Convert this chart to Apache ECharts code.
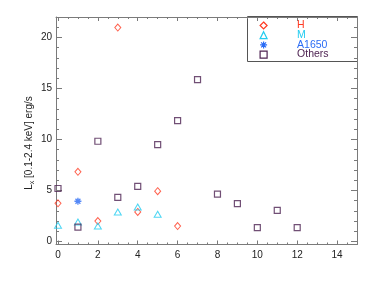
<!DOCTYPE html>
<html><head><meta charset="utf-8">
<script src="https://cdn.jsdelivr.net/npm/echarts@6/dist/echarts.min.js"></script>
<style>html,body{margin:0;padding:0;background:#fff}#c{width:374px;height:281px}</style>
</head><body><div id="c"></div>
<script>
// ---- data ----
const hX = [0, 1, 2, 3, 4, 5, 6];
const hY = [3.74, 6.83, 2.0, 20.96, 2.89, 4.93, 1.51];
const mX = [0, 1, 2, 3, 4, 5];
const mY = [1.58, 1.9, 1.51, 2.89, 3.38, 2.66];
const aX = [1];
const aY = [3.94];
const oX = [0, 1, 2, 3, 4, 5, 6, 7, 8, 9, 10, 11, 12];
const oY = [5.19, 1.41, 9.82, 4.31, 5.39, 9.49, 11.85, 15.86, 4.63, 3.71, 1.35, 3.05, 1.35];
const seriesNames = ['H', 'M', 'A1650', 'Others'];
const xMajor = [0, 2, 4, 6, 8, 10, 12, 14];
const xMinor = [0, 0.5, 1, 1.5, 2, 2.5, 3, 3.5, 4, 4.5, 5, 5.5, 6, 6.5, 7, 7.5, 8, 8.5, 9, 9.5, 10, 10.5, 11, 11.5, 12, 12.5, 13, 13.5, 14, 14.5, 15];
const yMajor = [0, 5, 10, 15, 20];
const yMinor = [0, 1, 2, 3, 4, 5, 6, 7, 8, 9, 10, 11, 12, 13, 14, 15, 16, 17, 18, 19, 20, 21, 22];
const yTitle = 'L_x [0.1-2.4 keV] erg/s';

const colors = { H: '#ff3a22', M: '#22ccf0', A1650: '#2a6cf5', Others: '#4e2352' };
const symbols = {
  H: 'path://M5,0L10,5L5,10L0,5Z',
  M: 'path://M5,0L10,10L0,10Z',
  A1650: 'path://M0,5L10,5M5,0L5,10M1.5,1.5L8.5,8.5M8.5,1.5L1.5,8.5',
  Others: 'path://M0,0L10,0L10,10L0,10Z'
};
const axisColor = '#7a7a7a';
const FONT = 'Liberation Sans';
const pairs = (xs, ys) => xs.map((x, i) => [x, ys[i]]);

const xMin = -0.1, xMax = 15, yMin = -0.3, yMax = 22;

function xAx(pos, vals, len, line, labels) {
  return {
    type: 'value', position: pos, min: xMin, max: xMax,
    axisLine: { show: line, onZero: false, lineStyle: { color: axisColor, width: 1 } },
    axisTick: { show: true, inside: true, length: len, customValues: vals, lineStyle: { color: axisColor } },
    axisLabel: labels ? { show: true, customValues: xMajor, color: '#222', fontFamily: FONT, fontSize: 10, margin: 6 } : { show: false },
    splitLine: { show: false }
  };
}
function yAx(pos, vals, len, line, labels) {
  return {
    type: 'value', position: pos, min: yMin, max: yMax,
    axisLine: { show: line, onZero: false, lineStyle: { color: axisColor, width: 1 } },
    axisTick: { show: true, inside: true, length: len, customValues: vals, lineStyle: { color: axisColor } },
    axisLabel: labels ? { show: true, customValues: yMajor, color: '#222', fontFamily: FONT, fontSize: 10, margin: 4 } : { show: false },
    splitLine: { show: false }
  };
}

const chart = echarts.init(document.getElementById('c'), null, { renderer: 'canvas' });
const sub = yTitle.split('_');
chart.setOption({
  animation: false,
  backgroundColor: '#fff',
  grid: { left: 56, right: 17, top: 17, bottom: 36.5, containLabel: false },
  xAxis: [
    xAx('bottom', xMajor, 4, true, true),
    xAx('bottom', xMinor, 2, false, false),
    xAx('top', xMajor, 4, true, false),
    xAx('top', xMinor, 2, false, false)
  ],
  yAxis: [
    yAx('left', yMajor, 6, true, true),
    yAx('left', yMinor, 3, false, false),
    yAx('right', yMajor, 6, true, false),
    yAx('right', yMinor, 3, false, false)
  ],
  legend: {
    orient: 'vertical', left: 254.5, top: 15, itemGap: -1.3,
    itemWidth: 7, itemHeight: 7,
    textStyle: { fontFamily: FONT, fontSize: 10.5, lineHeight: 10, padding: [0, 0, 0, 25] },
    data: seriesNames.map(n => ({
      name: n, icon: symbols[n],
      itemStyle: { color: 'rgba(255,255,255,0)', borderColor: colors[n], borderWidth: 1.2, opacity: 1 },
      textStyle: { color: colors[n] }
    }))
  },
  graphic: [
    { type: 'rect', shape: { x: 247.5, y: 16.5, width: 110, height: 45 }, style: { fill: 'none', stroke: '#555', lineWidth: 1 }, z: 0 },
    {
      type: 'text', x: 29, y: 143, rotation: Math.PI / 2,
      style: {
        text: '{a|' + sub[0] + '}{s|' + sub[1].charAt(0) + '}{a|' + sub[1].slice(1) + '}',
        align: 'center', verticalAlign: 'middle', fill: '#222',
        rich: { a: { fontFamily: FONT, fontSize: 10, fill: '#222' }, s: { fontFamily: FONT, fontSize: 7, fill: '#222', verticalAlign: 'bottom', padding: [6, 0, 0, 0] } }
      }
    }
  ],
  series: [
    { name: 'H', type: 'scatter', data: pairs(hX, hY), symbol: symbols.H, symbolSize: [6, 7],
      itemStyle: { color: 'rgba(255,255,255,0)', borderColor: colors.H, borderWidth: 1 } },
    { name: 'M', type: 'scatter', data: pairs(mX, mY), symbol: symbols.M, symbolSize: [7, 6],
      itemStyle: { color: 'rgba(255,255,255,0)', borderColor: colors.M, borderWidth: 1 } },
    { name: 'A1650', type: 'scatter', data: pairs(aX, aY), symbol: symbols.A1650, symbolSize: 7,
      itemStyle: { color: 'rgba(255,255,255,0)', borderColor: colors.A1650, borderWidth: 1.3 } },
    { name: 'Others', type: 'scatter', data: pairs(oX, oY), symbol: symbols.Others, symbolSize: 6,
      itemStyle: { color: 'rgba(255,255,255,0)', borderColor: colors.Others, borderWidth: 1.2 } }
  ]
});
</script></body></html>
